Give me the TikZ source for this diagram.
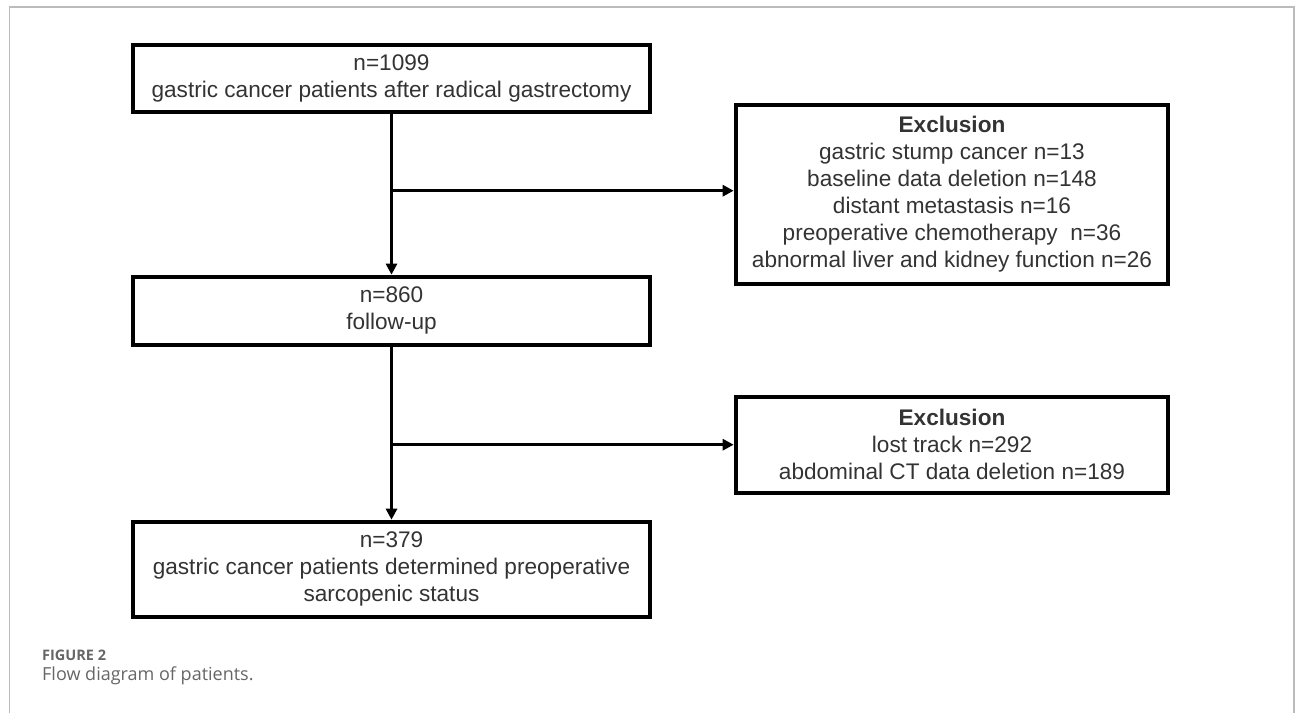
\documentclass[tikz,border=0pt]{standalone}
\usepackage{fontspec}
\setmainfont{Liberation Sans}
\newfontfamily\capfont{Open Sans}
\usetikzlibrary{arrows.meta}
\definecolor{txt}{HTML}{333333}
\definecolor{framec}{HTML}{BBBBBB}
\definecolor{capc}{HTML}{666666}
\begin{document}
\begin{tikzpicture}[x=1pt,y=-1pt,
  box/.style={draw=black, line width=4pt, align=center, inner sep=0pt,
    font=\fontsize{22.6}{27}\selectfont, text=txt},
  arr/.style={line width=3.3pt, -{Triangle[length=11pt,width=11pt]}},
  capt/.style={anchor=west, inner sep=0pt, text=capc}]
\useasboundingbox (0,0) rectangle (1295,713);
\draw[framec, line width=1.5pt] (9.5,713) -- (9.5,7) -- (1294,7) -- (1294,713);

\node[box, minimum width=517pt, minimum height=66.5pt] (b1) at (391.5,78.3)
  {n=1099\\gastric cancer patients after radical gastrectomy};
\node[box, minimum width=517pt, minimum height=68.3pt] (b2) at (391.5,310.8)
  {n=860\\follow-up};
\node[box, minimum width=517pt, minimum height=95pt] (b3) at (391.5,569.2)
  {n=379\\gastric cancer patients determined preoperative\\sarcopenic status};
\node[box, minimum width=432.6pt, minimum height=179pt] (e1) at (952,194.5)
  {{\bfseries Exclusion}\\gastric stump cancer n=13\\baseline data deletion n=148\\distant metastasis n=16\\preoperative chemotherapy\ \ n=36\\abnormal liver and kidney function n=26};
\node[box, minimum width=432.6pt, minimum height=96pt] (e2) at (952,444.7)
  {{\bfseries Exclusion}\\lost track n=292\\abdominal CT data deletion n=189};

\draw[arr] (b1.south) -- (b2.north);
\draw[arr] (b2.south) -- (b3.north);
\coordinate (j1) at (b1.south |- 0,190.7);
\draw[arr] (j1) -- (j1 -| e1.west);
\coordinate (j2) at (b2.south |- e2.west);
\draw[arr] (j2) -- (e2.west);

\node[capt, font=\capfont\bfseries\fontsize{14.5}{17}\selectfont] (fig) at (42,655) {FIGURE 2};
\node[capt, font=\capfont\fontsize{18}{21}\selectfont] (cap) at (42,676) {Flow diagram of patients.};
\end{tikzpicture}
\end{document}
